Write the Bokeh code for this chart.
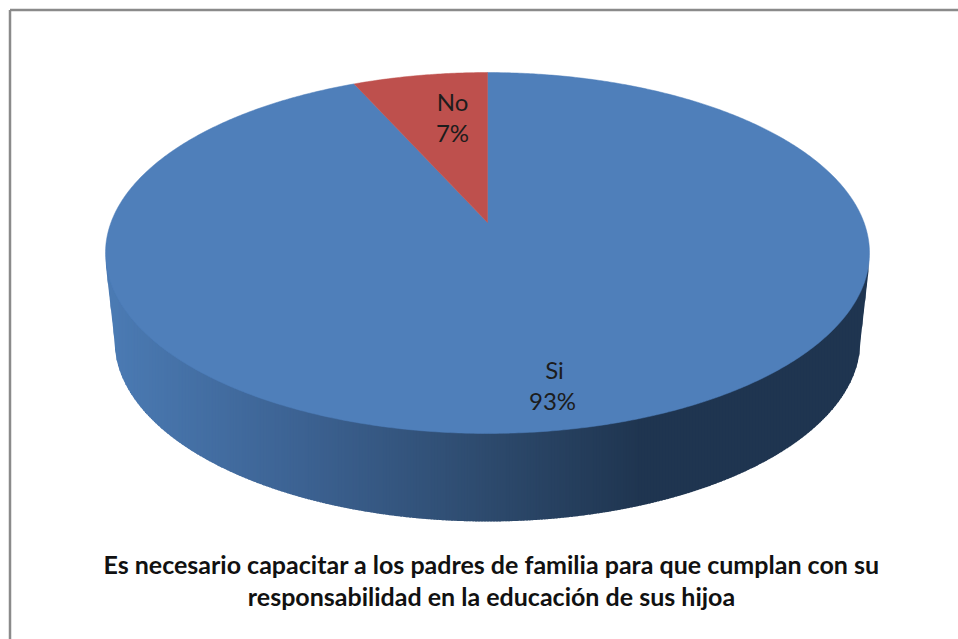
import numpy as np
from bokeh.plotting import figure
from bokeh.models import Range1d
from bokeh.core.properties import value
from bokeh.embed import file_html
from bokeh.resources import INLINE

categories = ["Si", "No"]
shares = [93.3, 6.7]
percent_labels = ["93%", "7%"]
title_lines = [
    "Es necesario capacitar a los padres de familia para que cumplan con su",
    "responsabilidad en la educación de sus hijoa",
]
slice_colors = ["#4f7fba", "#be504d"]
label_color = "#1c1c1c"
frame_color = "#8a8a8a"

# Projection of the tilted pie (screen pixels)
CX, APEX_Y = 487.0, 222.0
A, B, K = 376.5, 175.3, 0.169


def project(theta):
    u, v = np.sin(theta), np.cos(theta)
    d = 1 + K * v
    return CX + A * u / d, APEX_Y - B * v / d


p = figure(width=958, height=639, x_range=Range1d(0, 958), y_range=Range1d(639, 0),
           output_backend="svg", toolbar_location=None,
           x_axis_location=None, y_axis_location=None, min_border=0,
           outline_line_color=None, background_fill_color="white", border_fill_color="white")
p.grid.visible = False

# frame
p.line([9.5, 9.5], [9.5, 639], line_color=frame_color, line_width=2.5)
p.line([9.5, 958], [9.5, 9.5], line_color=frame_color, line_width=2.5)

# side wall, shaded strip by strip
BOT_CY, BOT_RX, BOT_RY = 340.0, 373.0, 181.0
TOP_RX = 382.0
WALL_TOP = 262.0
stops_x = [105, 300, 487, 640, 869]
stops_rgb = np.array([[0x4b, 0x7b, 0xb4], [0x3c, 0x62, 0x92], [0x2d, 0x4a, 0x6d], [0x1f, 0x35, 0x50], [0x1f, 0x35, 0x50]])


def lower_edge(x):
    dx = np.minimum(np.abs(x - CX), TOP_RX)
    inner = BOT_CY + BOT_RY * np.sqrt(np.clip(1 - (dx / BOT_RX) ** 2, 0, 1))
    outer = WALL_TOP + (BOT_CY - WALL_TOP) * (TOP_RX - dx) / (TOP_RX - BOT_RX)
    return np.where(dx <= BOT_RX, inner, outer)


xs_edge = np.arange(CX - TOP_RX + 0.5, CX + TOP_RX - 2.5, 1.5)
sx, sy, sc = [], [], []
for x0 in xs_edge:
    x1 = x0 + 2.0
    sx.append([x0, x1, x1, x0])
    sy.append([WALL_TOP, WALL_TOP, float(lower_edge(np.array(x1))), float(lower_edge(np.array(x0)))])
    rgb = [np.interp(x0, stops_x, stops_rgb[:, i]) for i in range(3)]
    sc.append("#%02x%02x%02x" % tuple(int(round(c)) for c in rgb))
p.patches(sx, sy, fill_color=sc, line_color=None)

# top surface, slices clockwise from 12 o'clock
fractions = np.array(shares) / sum(shares)
ends = np.cumsum(fractions) * 2 * np.pi
starts = np.concatenate([[0], ends[:-1]])
for s, e, col in zip(starts, ends, slice_colors):
    th = np.linspace(s, e, max(int((e - s) * 120), 12))
    x, y = project(th)
    p.patch(np.r_[CX, x], np.r_[APEX_Y, y], fill_color=col, line_color=col, line_width=0.5)

# data labels
label_pos = [(554, 369, 552, 400), (452, 101, 452, 132)]
for cat, pct, (x1, y1, x2, y2) in zip(categories, percent_labels, label_pos):
    p.text([x1], [y1], text=[cat], text_font=value("Lato"), text_font_size="24px",
           text_color=label_color, text_align="center", text_baseline="middle")
    p.text([x2], [y2], text=[pct], text_font=value("Lato"), text_font_size="24px",
           text_color=label_color, text_align="center", text_baseline="middle")

# title
for line, y in zip(title_lines, [563, 595]):
    p.text([491], [y], text=[line], text_font=value("Lato"), text_font_style="bold",
           text_font_size="25px", text_color="#111111", text_align="center", text_baseline="middle")

open("out.html", "w").write(file_html(p, INLINE))
